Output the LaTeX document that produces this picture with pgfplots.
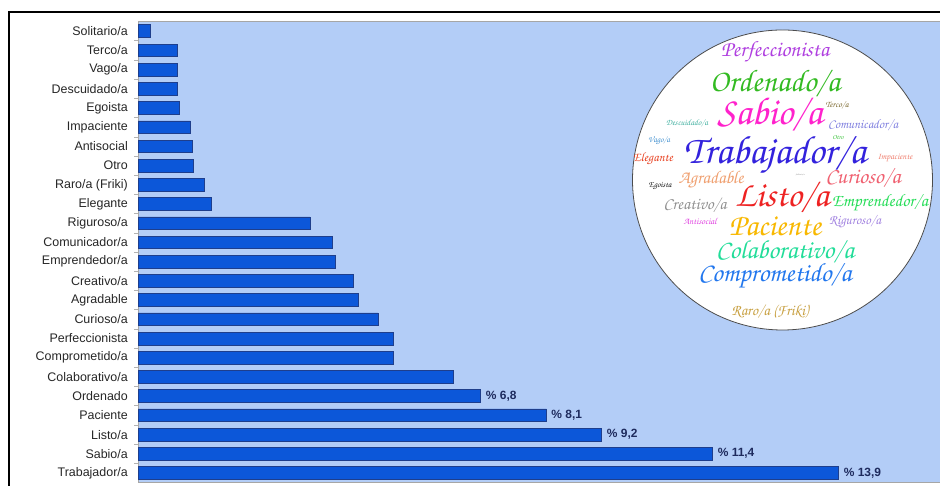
\documentclass[border=0pt]{standalone}
\usepackage{fontspec}
\setmainfont{Liberation Sans}
\usepackage{graphicx}
\usepackage{pgfplots}
\pgfplotsset{compat=1.18}
\definecolor{plotbg}{RGB}{179,205,247}
\definecolor{barfill}{RGB}{12,87,217}
\definecolor{baredge}{RGB}{30,62,140}
\definecolor{vallab}{RGB}{30,43,94}
\newcommand\cloudfont{\fontencoding{OT1}\fontfamily{pzc}\fontseries{mb}\fontshape{it}\selectfont}
\newcommand\w[5]{\definecolor{wc}{RGB}{#1}\node[text=wc, inner sep=0pt] at (#2,#3) {\resizebox{#4bp}{!}{\cloudfont #5}};}
\begin{document}
\begin{tikzpicture}[x=1bp,y=1bp]
\useasboundingbox (0,0) rectangle (940,486);
\begin{axis}[
  at={(138bp,4bp)}, anchor=south west, scale only axis,
  width=812bp, height=461bp,
  xmin=0, xmax=16.11, ymin=-0.47, ymax=23.53,
  axis background/.style={fill=plotbg},
  axis line style={draw=gray!70, line width=0.8bp},
  xtick=\empty,
  ytick={0,...,23},
  yticklabels={Trabajador/a,Sabio/a,Listo/a,Paciente,Ordenado,Colaborativo/a,Comprometido/a,Perfeccionista,Curioso/a,Agradable,Creativo/a,Emprendedor/a,Comunicador/a,Riguroso/a,Elegante,Raro/a (Friki),Otro,Antisocial,Impaciente,Egoista,Descuidado/a,Vago/a,Terco/a,Solitario/a},
  minor ytick={0.5,1.5,...,22.5},
  major tick length=0pt, minor tick length=4bp, tick align=outside,
  minor tick style={gray!60, line width=0.6bp},
  yticklabel style={font=\fontsize{12.5}{14}\selectfont, text=black!85, inner sep=0pt, xshift=-10bp, anchor=east},
]
\addplot[xbar, bar shift=0pt, bar width=12.7bp, fill=barfill, draw=baredge, line width=0.7bp] coordinates {
(13.9,0) (11.4,1) (9.2,2) (8.1,3) (6.8,4) (6.25,5) (5.07,6) (5.07,7) (4.76,8) (4.38,9) (4.27,10) (3.92,11) (3.85,12) (3.41,13) (1.46,14) (1.32,15) (1.10,16) (1.07,17) (1.04,18) (0.83,19) (0.79,20) (0.79,21) (0.79,22) (0.24,23)
};
\addplot[xbar, bar shift=0pt, bar width=12.7bp, fill=none, draw=none, nodes near coords, point meta=explicit symbolic,
  every node near coord/.style={anchor=west, font=\bfseries\fontsize{12}{14}\selectfont, text=vallab, inner sep=0pt, xshift=5bp}] coordinates {
(13.9,0) [\% 13,9] (11.4,1) [\% 11,4] (9.2,2) [\% 9,2] (8.1,3) [\% 8,1] (6.8,4) [\% 6,8]
};
\end{axis}
\draw[line width=1.3bp] (9,0) -- (9,474) -- (941,474);
\draw[fill=white, draw=black!70, line width=0.8bp] (782.5,306) circle (150bp);
\w{176,64,224}{775}{434}{108}{Perfeccionista}
\w{51,187,34}{775}{405}{130}{Ordenado/a}
\w{255,34,204}{770}{374}{105}{Sabio/a}
\w{120,100,40}{837}{381}{23}{Terco/a}
\w{64,176,160}{687}{363}{42}{Descuidado/a}
\w{128,128,224}{863}{362}{70}{Comunicador/a}
\w{64,144,208}{659}{345}{22}{Vago/a}
\w{48,192,48}{838}{349}{11}{Otro}
\w{51,34,221}{775}{330}{182}{Trabajador/a}
\w{232,64,32}{653}{327}{40}{Elegante}
\w{240,128,112}{895}{328}{35}{Impaciente}
\w{240,160,112}{711}{306}{65}{Agradable}
\w{130,130,130}{800}{311}{9}{Solitario/a}
\w{240,96,112}{863}{309}{75}{Curioso/a}
\w{20,20,20}{660}{300}{23}{Egoista}
\w{238,34,34}{782}{291}{94}{Listo/a}
\w{144,144,144}{695}{282}{63}{Creativo/a}
\w{34,221,85}{880}{283}{96}{Emprendedor/a}
\w{224,64,224}{700}{265}{33}{Antisocial}
\w{248,184,0}{775}{260}{92}{Paciente}
\w{160,128,224}{855}{264}{52}{Riguroso/a}
\w{34,221,153}{785}{236}{138}{Colaborativo/a}
\w{34,119,238}{775}{210}{153}{Comprometido/a}
\w{200,160,64}{770}{174}{77}{Raro/a (Friki)}
\end{tikzpicture}
\end{document}
